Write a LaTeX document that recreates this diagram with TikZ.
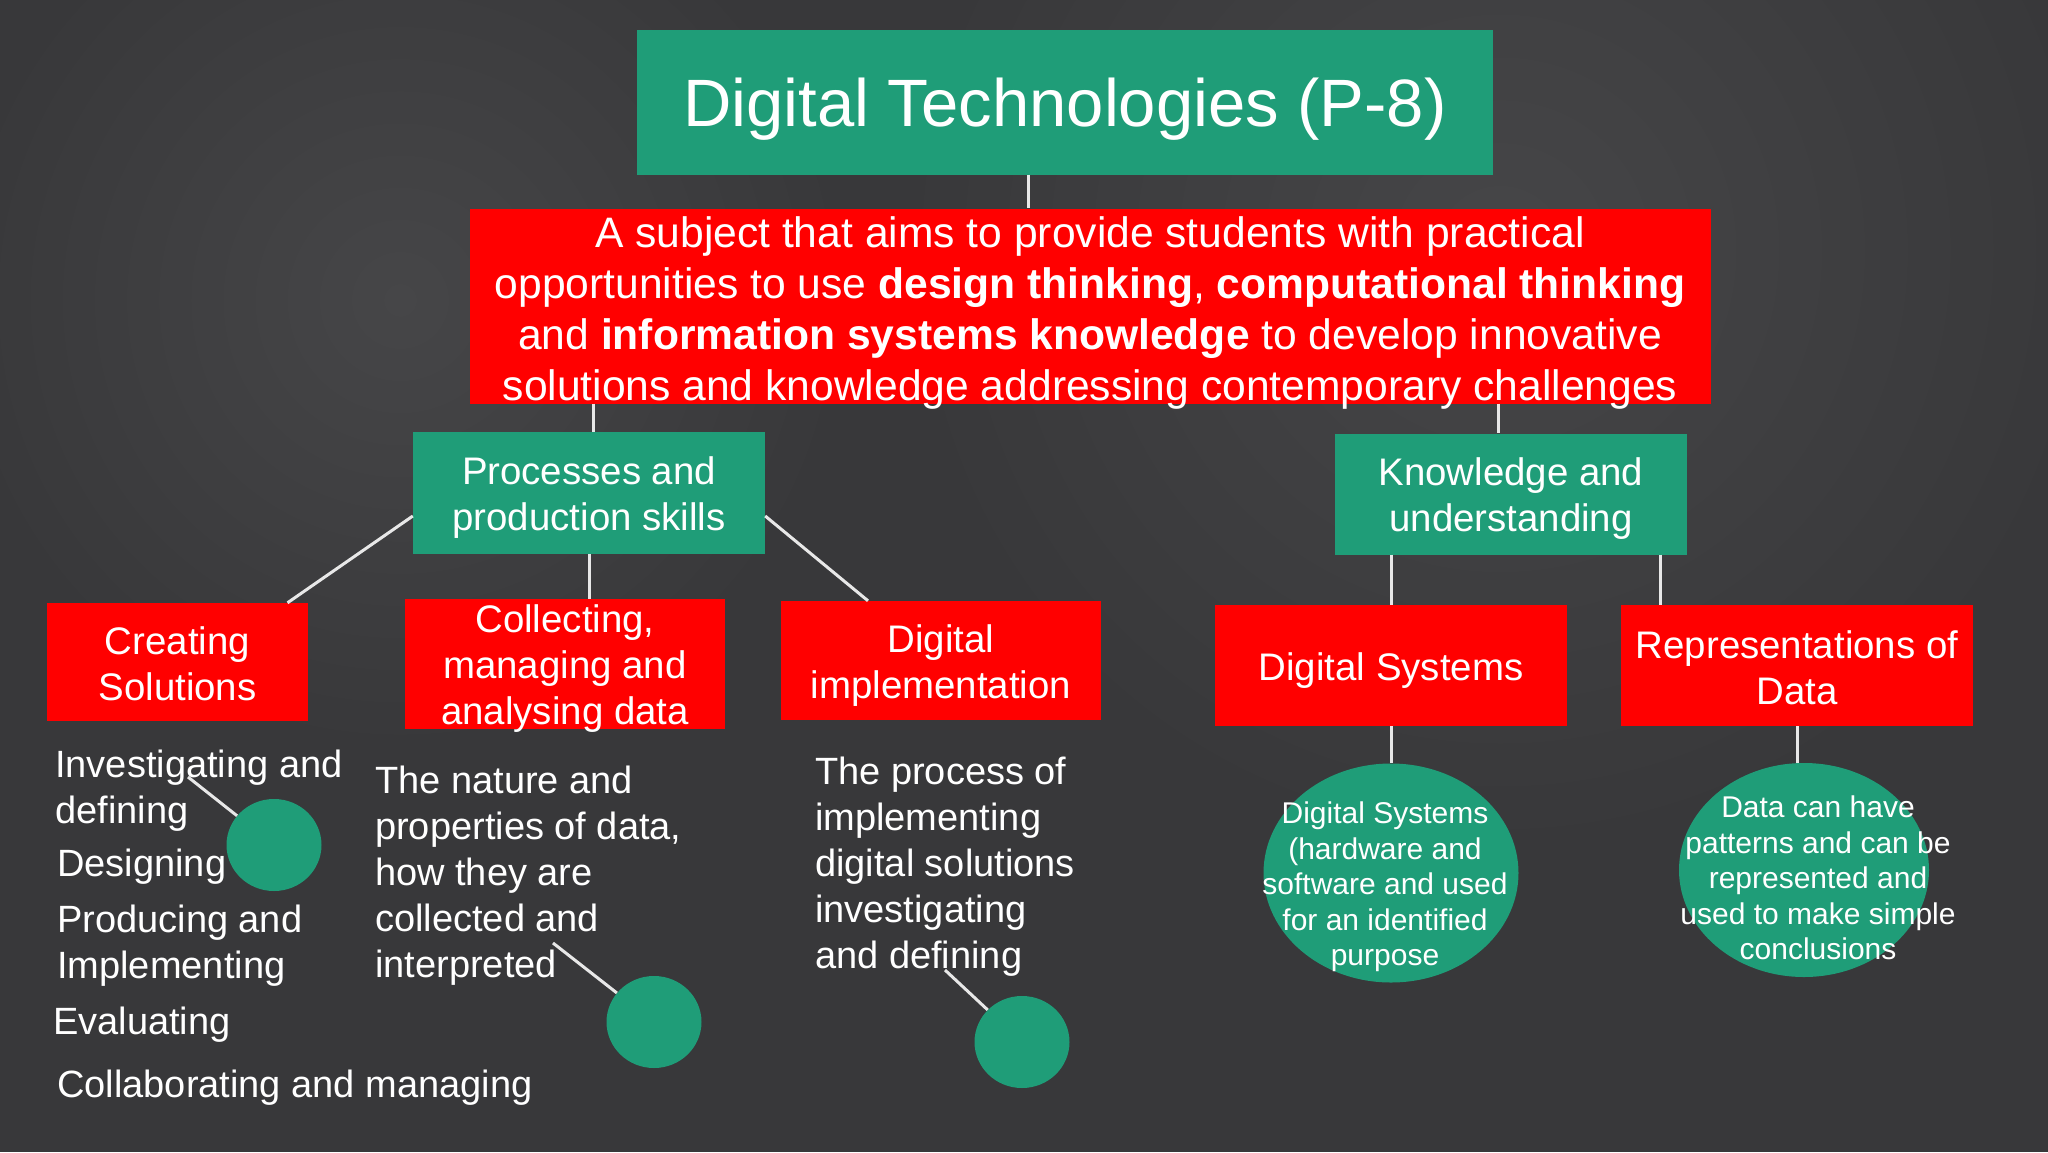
\documentclass[tikz,border=0pt]{standalone}
\usepackage{fontspec}
\setmainfont{Liberation Sans}
\usetikzlibrary{shapes.geometric}
\definecolor{board}{RGB}{56,56,58}
\definecolor{boardlight}{RGB}{70,70,72}
\definecolor{tgreen}{RGB}{31,157,120}
\definecolor{tred}{RGB}{255,0,0}
\definecolor{chalk}{RGB}{232,232,232}
\begin{document}
\begin{tikzpicture}[x=1pt,y=-1pt,
  redbox/.style={fill=tred, draw=none, inner sep=0pt},
  greenbox/.style={fill=tgreen, draw=none, inner sep=0pt},
  boxtext/.style={text=white, align=center, inner sep=0pt, yshift=-5pt, font=\fontsize{38.4}{46}\selectfont},
  smalldot/.style={ellipse, fill=tgreen, draw=none, minimum width=95pt, minimum height=92pt, inner sep=0pt},
  bigdot/.style={ellipse, fill=tgreen, draw=none, inner sep=0pt},
  dottext/.style={text=white, align=center, inner sep=0pt, font=\fontsize{30}{35.5}\selectfont},
  link/.style={draw=chalk, line width=3pt},
  note/.style={text=white, anchor=west, align=left, inner sep=0pt, font=\fontsize{38}{46}\selectfont},
]
% background
\useasboundingbox (0,0) rectangle (2048,1152);
\fill[board] (0,0) rectangle (2048,1152);
\begin{scope}
\clip (0,0) rectangle (2048,1152);
\shade[inner color=boardlight, outer color=board] (1500,250) circle (600);
\shade[inner color=boardlight, outer color=board] (400,300) circle (450);
\end{scope}

% boxes
\node[greenbox, minimum width=856pt, minimum height=145pt, text=white, text height=62pt, text depth=14pt, font=\fontsize{67}{80}\selectfont] (title) at (1065,102) {Digital Technologies (P-8)};
\node[redbox, minimum width=1241pt, minimum height=195pt,
  label={[text=white, align=center, inner sep=0pt, yshift=-6.5pt, font=\fontsize{42.6}{51}\selectfont]center:{A subject that aims to provide students with practical\\
  opportunities to use \textbf{design thinking}, \textbf{computational thinking}\\
  and \textbf{information systems knowledge} to develop innovative\\
  solutions and knowledge addressing contemporary challenges}}] (desc) at (1090,306) {};
\node[greenbox, minimum width=352pt, minimum height=122pt, label={[boxtext]center:{Processes and\\production skills}}] (proc) at (589,493) {};
\node[greenbox, minimum width=352pt, minimum height=121pt, label={[boxtext]center:{Knowledge and\\understanding}}] (know) at (1511,494) {};
\node[redbox, minimum width=261pt, minimum height=118pt, label={[boxtext, yshift=3pt]center:{Creating\\Solutions}}] (create) at (177.5,662) {};
\node[redbox, minimum width=320pt, minimum height=130pt, label={[boxtext]center:{Collecting,\\managing and\\analysing data}}] (collect) at (565,664) {};
\node[redbox, minimum width=320pt, minimum height=119pt, label={[boxtext]center:{Digital\\implementation}}] (digimpl) at (941,660.5) {};
\node[redbox, minimum width=352pt, minimum height=121pt, label={[boxtext]center:{Digital Systems}}] (digsys) at (1391,665.5) {};
\node[redbox, minimum width=352pt, minimum height=121pt, label={[boxtext, yshift=3pt]center:{Representations of\\Data}}] (repr) at (1797,665.5) {};

% big circles
\node[bigdot, minimum width=255pt, minimum height=219pt] (sysdot) at (1391,873) {};
\node[bigdot, minimum width=250pt, minimum height=214pt] (datadot) at (1804,870) {};
\node[dottext] (systext) at (1385,887) {Digital Systems\\(hardware and\\software and used\\for an identified\\purpose};
\node[dottext] (datatext) at (1818,878) {Data can have\\patterns and can be\\represented and\\used to make simple\\conclusions};

% small circles
\node[smalldot] (dot1) at (274,845) {};
\node[smalldot] (dot2) at (654,1022) {};
\node[smalldot] (dot3) at (1022,1042) {};

% free text
\node[note] (n1) at (55,791) {Investigating and\\defining};
\node[note] (n2) at (57,867) {Designing};
\node[note] (n3) at (57,946) {Producing and\\Implementing};
\node[note] (n4) at (53,1025) {Evaluating};
\node[note] (n5) at (57,1088) {Collaborating and managing};
\node[note] (m1) at (375,876) {The nature and\\properties of data,\\how they are\\collected and\\interpreted};
\node[note] (m2) at (815,867) {The process of\\implementing\\digital solutions\\investigating\\and defining};

% connectors
\draw[link] ([xshift=-37pt]title.south) -- ([xshift=-37pt]title.south |- desc.north);
\draw[link] ([xshift=4pt]proc.north |- desc.south) -- ([xshift=4pt]proc.north);
\draw[link] ([xshift=-13pt]know.north |- desc.south) -- ([xshift=-13pt]know.north);
\draw[link] ([yshift=-23pt]proc.west) -- ([xshift=110pt]create.north);
\draw[link] (proc.south) -- (proc.south |- collect.north);
\draw[link] ([yshift=-23pt]proc.east) -- ([xshift=-73pt]digimpl.north);
\draw[link] (digsys.north |- know.south) -- (digsys.north);
\draw[link] ([xshift=149pt]know.south) -- ([xshift=149pt]know.south |- repr.north);
\draw[link] (digsys.south) -- (sysdot.north);
\draw[link] (repr.south) -- (repr.south |- datadot.north);
\coordinate (l1) at (188,777);
\coordinate (l2) at (553,943);
\coordinate (l3) at (945,970);
\draw[link] (l1) -- (dot1);
\draw[link] (l2) -- (dot2);
\draw[link] (l3) -- (dot3);
\end{tikzpicture}
\end{document}
